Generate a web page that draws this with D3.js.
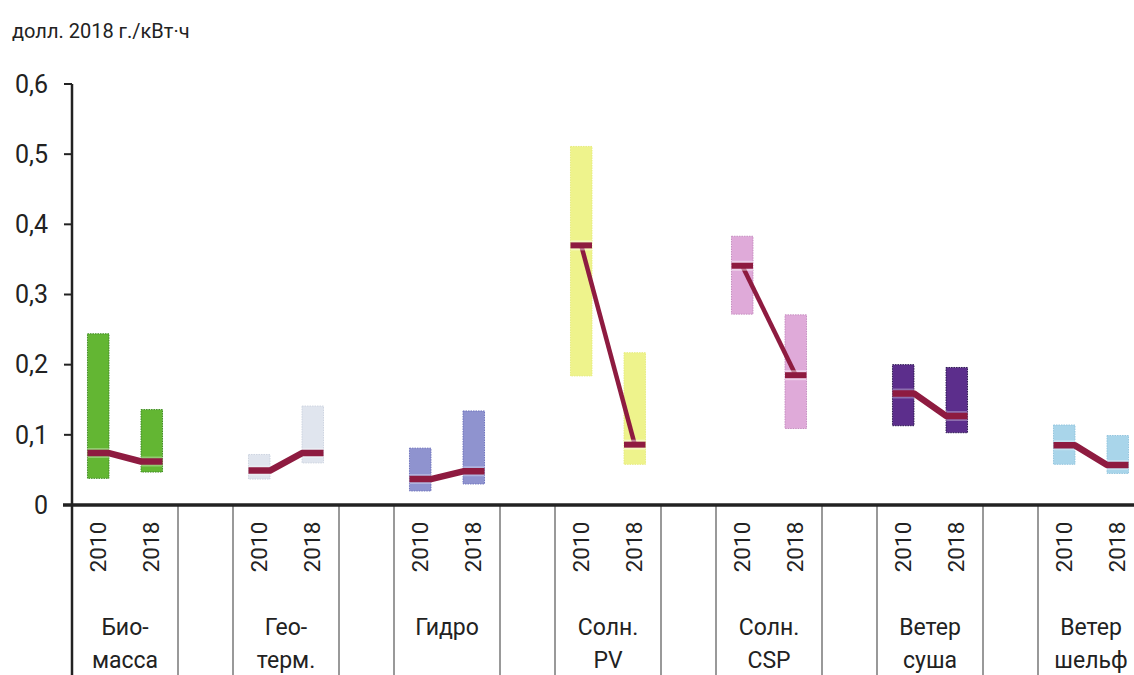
<!DOCTYPE html>
<html>
<head>
<meta charset="utf-8">
<script src="https://cdn.jsdelivr.net/npm/d3@7"></script>
<style>
  html, body { margin: 0; padding: 0; background: #fff; }
  svg { display: block; }
  text { font-family: "Roboto", "Noto Sans", sans-serif; fill: #222; }
</style>
</head>
<body>
<svg id="chart" width="1134" height="675"></svg>
<script>
// LCOE ranges by technology, 2010 vs 2018 (долл. 2018 г./кВт·ч)
const categories = ['Биомасса', 'Геотерм', 'Гидро', 'СолнPV', 'СолнCSP', 'ВетерСуша', 'ВетерШельф'];
const categoryLabels = [['Био-', 'масса'], ['Гео-', 'терм.'], ['Гидро'], ['Солн.', 'PV'], ['Солн.', 'CSP'], ['Ветер', 'суша'], ['Ветер', 'шельф']];
const years = ['2010', '2018'];

const low2010  = [0.038, 0.037, 0.020, 0.184, 0.272, 0.113, 0.058];
const high2010 = [0.244, 0.072, 0.081, 0.511, 0.383, 0.200, 0.114];
const mid2010  = [0.074, 0.049, 0.037, 0.370, 0.341, 0.159, 0.085];

const low2018  = [0.047, 0.060, 0.030, 0.058, 0.109, 0.103, 0.045];
const high2018 = [0.136, 0.141, 0.134, 0.217, 0.271, 0.196, 0.099];
const mid2018  = [0.062, 0.074, 0.048, 0.086, 0.185, 0.127, 0.057];

const yTicks = [0, 0.1, 0.2, 0.3, 0.4, 0.5, 0.6];

// colours per technology
const fills   = ['#63b633', '#e0e5ee', '#8f93cf', '#eef38c', '#dfaad9', '#5c2e8c', '#a9d5ea'];
const borders = ['#3f8c24', '#cdd4e0', '#6f74bd', '#e6ec7c', '#c68dc0', '#2e1a52', '#93c5de'];
const lineColor = '#8e1b40';

const svg = d3.select('#chart');
const W = 1134, H = 675;
const x0 = 72, zeroY = 505;

const y = d3.scaleLinear().domain([0, 0.6]).range([zeroY, 84]);
const x = d3.scaleBand().domain(categories).range([x0, 1144]).paddingInner(0.3416).paddingOuter(0);
const xi = d3.scalePoint().domain(years).range([0, x.bandwidth()]).padding(0.49);
const barW = 21.5;
const fmt = d3.formatLocale({decimal: ',', thousands: ' ', grouping: [3], currency: ['', '']}).format('.1f');

// data rows
const rows = categories.map((c, i) => ({
  key: c, i,
  vals: [
    {year: '2010', lo: low2010[i], hi: high2010[i], mid: mid2010[i]},
    {year: '2018', lo: low2018[i], hi: high2018[i], mid: mid2018[i]}
  ]
}));

// y axis title
svg.append('text').attr('x', 12).attr('y', 38).attr('font-size', 20).text('долл. 2018 г./кВт·ч');

// y axis ticks + labels
const yg = svg.append('g');
yg.selectAll('line.tick').data(yTicks).enter().append('line')
  .attr('x1', 64).attr('x2', x0).attr('y1', d => y(d)).attr('y2', d => y(d))
  .attr('stroke', '#222').attr('stroke-width', 2);
yg.selectAll('text').data(yTicks).enter().append('text')
  .attr('x', 48).attr('y', d => y(d)).attr('dy', '0.35em')
  .attr('text-anchor', 'end').attr('font-size', 25)
  .text(d => d === 0 ? '0' : fmt(d));

// group separators in the category area
const sep = svg.append('g');
categories.forEach(c => {
  [x(c), x(c) + x.bandwidth()].forEach(px => {
    sep.append('line').attr('x1', px).attr('x2', px).attr('y1', zeroY).attr('y2', H)
      .attr('stroke', '#555').attr('stroke-width', 1.2);
  });
});

// bars
const groups = svg.selectAll('g.grp').data(rows).enter().append('g')
  .attr('class', 'grp').attr('transform', d => `translate(${x(d.key)},0)`);

groups.selectAll('rect').data(d => d.vals.map(v => Object.assign({i: d.i}, v))).enter().append('rect')
  .attr('x', d => xi(d.year) - barW / 2)
  .attr('width', barW)
  .attr('y', d => y(d.hi))
  .attr('height', d => y(d.lo) - y(d.hi))
  .attr('fill', d => fills[d.i])
  .attr('stroke', d => borders[d.i])
  .attr('stroke-width', 1)
  .attr('stroke-dasharray', '1.5,1');

// median lines
const capped = ['СолнPV', 'СолнCSP'];
groups.each(function(d) {
  const g = d3.select(this);
  const a = d.vals[0], b = d.vals[1];
  const xa = xi(a.year), xb = xi(b.year);
  if (capped.includes(d.key)) {
    g.append('line').attr('x1', xa).attr('y1', y(a.mid)).attr('x2', xb).attr('y2', y(b.mid))
      .attr('stroke', lineColor).attr('stroke-width', 4.5);
    [a, b].forEach(v => {
      g.append('line')
        .attr('x1', xi(v.year) - barW / 2).attr('x2', xi(v.year) + barW / 2)
        .attr('y1', y(v.mid)).attr('y2', y(v.mid))
        .attr('stroke', '#fff').attr('stroke-opacity', 0.45).attr('stroke-width', 10);
      g.append('line')
        .attr('x1', xi(v.year) - barW / 2).attr('x2', xi(v.year) + barW / 2)
        .attr('y1', y(v.mid)).attr('y2', y(v.mid))
        .attr('stroke', lineColor).attr('stroke-width', 6);
    });
  } else {
    const pts = [[xa - barW / 2, y(a.mid)], [xa + barW / 2, y(a.mid)], [xb - barW / 2, y(b.mid)], [xb + barW / 2, y(b.mid)]];
    const line = d3.line();
    g.append('path').attr('d', line(pts)).attr('fill', 'none')
      .attr('stroke', '#fff').attr('stroke-opacity', 0.3).attr('stroke-width', 10)
      .attr('stroke-linejoin', 'round');
    g.append('path').attr('d', line(pts)).attr('fill', 'none')
      .attr('stroke', lineColor).attr('stroke-width', 6.5)
      .attr('stroke-linejoin', 'round');
  }
});

// axes lines
svg.append('line').attr('x1', x0).attr('x2', x0).attr('y1', 84).attr('y2', H)
  .attr('stroke', '#222').attr('stroke-width', 2.5);
svg.append('line').attr('x1', 63).attr('x2', W).attr('y1', zeroY).attr('y2', zeroY)
  .attr('stroke', '#222').attr('stroke-width', 3.5);

// year labels (rotated)
groups.selectAll('text.yr').data(years).enter().append('text')
  .attr('class', 'yr')
  .attr('transform', d => `translate(${xi(d) + 7.5},547) rotate(-90)`)
  .attr('text-anchor', 'middle').attr('font-size', 22.5)
  .text(d => d);

// category labels
groups.each(function(d) {
  const g = d3.select(this);
  categoryLabels[d.i].forEach((t, k) => {
    g.append('text').attr('x', x.bandwidth() / 2).attr('y', 635 + k * 33)
      .attr('text-anchor', 'middle').attr('font-size', 23).text(t);
  });
});
</script>
</body>
</html>
